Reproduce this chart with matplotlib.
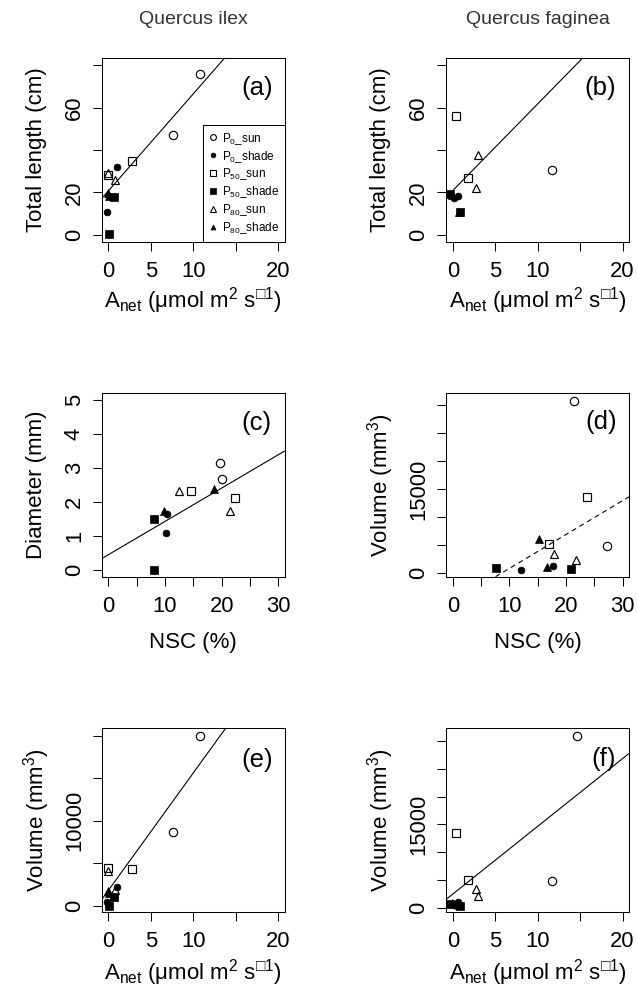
import numpy as np
import matplotlib
matplotlib.use('Agg')
import matplotlib.pyplot as plt
from matplotlib.lines import Line2D

plt.rcParams['font.family'] = ['Liberation Sans', 'DejaVu Sans']
plt.rcParams['mathtext.fontset'] = 'custom'
plt.rcParams['mathtext.rm'] = 'Liberation Sans'
plt.rcParams['mathtext.it'] = 'Liberation Sans:italic'
plt.rcParams['mathtext.bf'] = 'Liberation Sans:bold'
plt.rcParams['mathtext.fallback'] = 'stixsans'

# ---------------- data ----------------
groups = ['P0_sun', 'P0_shade', 'P50_sun', 'P50_shade', 'P80_sun', 'P80_shade']
group_labels = [r'P$_{0}$_sun', r'P$_{0}$_shade', r'P$_{50}$_sun',
                r'P$_{50}$_shade', r'P$_{80}$_sun', r'P$_{80}$_shade']

# Quercus ilex
anet_ilex = [[10.78, 7.55], [0.98, -0.2], [2.75, -0.08], [0.67, 0.1], [-0.05, 0.75], [0.0, 0.1]]
length_ilex = [[75.6, 47.1], [32.2, 11.0], [34.8, 28.0], [18.0, 0.2], [29.0, 25.9], [19.9, 18.5]]
volume_ilex = [[19922, 8627], [2235, 392], [4275, 4392], [1059, 0], [4078, 1843], [1686, 1500]]
nsc_ilex = [[19.7, 20.0], [10.4, 10.1], [14.5, 22.35], [8.06, 8.06], [12.5, 21.5], [18.65, 9.76]]
diam_ilex = [[3.15, 2.68], [1.64, 1.09], [2.31, 2.13], [1.5, 0.0], [2.32, 1.73], [2.38, 1.72]]

# Quercus faginea
anet_fag = [[11.69, 14.59], [0.1, 0.6], [0.43, 1.84], [-0.3, 0.88], [2.7, 2.95], [0.7, -0.1]]
length_fag = [[30.6, np.nan], [17.3, 18.4], [55.8, 26.8], [19.1, 10.7], [22.3, 37.6], [10.7, 19.0]]
volume_fag = [[4950, 30830], [656, 1193], [13536, 5069], [835, 417], [3459, 2266], [600, 895]]
nsc_fag = [[27.3, 21.5], [12.06, 17.7], [23.65, 17.0], [7.65, 20.9], [17.94, 21.76], [15.24, 16.7]]
volnsc_fag = [[4940, 30774], [595, 1250], [13571, 5179], [1012, 714], [3452, 2381], [6071, 1071]]

# regression lines: (intercept, slope)
fit_a = (20.8, 4.57)
fit_b = (20.9, 4.08)
fit_c = (0.449, 0.098)
fit_d = (-5168, 604.6)
fit_e = (1821, 1380)
fit_f = (2555, 1211)

# ---------------- style ----------------
markers = ['o', 'o', 's', 's', '^', '^']
filled = [False, True, False, True, False, True]
msizes = [6.0, 4.9, 5.2, 5.6, 5.9, 5.1]

W, H = 638, 986
fig = plt.figure(figsize=(W / 100, H / 100), dpi=100)

col_left = [101.7, 446.0]
row_top = [58.3, 393.3, 728.3]
aw, ah = 183.3, 183.4


def make_ax(c, r):
    l = col_left[c] / W
    b = 1 - (row_top[r] + ah) / H
    return fig.add_axes([l, b, aw / W, ah / H])


def scatter_groups(ax, xs, ys):
    for i in range(6):
        ax.plot(xs[i], ys[i], ls='none', marker=markers[i], ms=msizes[i],
                mfc='black' if filled[i] else 'none', mec='black',
                mew=0.5 if filled[i] else 0.85, zorder=3)


def style_ax(ax, xlim, ylim, xticks, xlabels, yticks, ylabels):
    ax.set_xlim(*xlim)
    ax.set_ylim(*ylim)
    ax.set_xticks(xticks, xlabels)
    ax.set_yticks(yticks, ylabels, rotation=90, va='center')
    ax.tick_params(axis='both', direction='out', length=6.5, width=0.75,
                   labelsize=15.8, colors='black')
    ax.tick_params(axis='x', pad=7.1)
    ax.tick_params(axis='y', pad=5.6)
    for s in ax.spines.values():
        s.set_linewidth(0.75)
        s.set_color('black')


def add_fit(ax, fit, dashed=False):
    b0, b1 = fit
    ax.axline((0, b0), slope=b1, color='black', lw=0.8,
              ls=(0, (4.5, 3.5)) if dashed else '-', zorder=4)


anet_label = r'A$_{\mathrm{net}}$ (μmol m$^{2}$ s$^{□1}$)'

xt_anet = [0, 5, 10, 15, 20]
xl_anet = ['0', '5', '10', '', '20']
xt_nsc = [0, 5, 10, 15, 20, 25, 30]
xl_nsc = ['0', '', '10', '', '20', '', '30']

# (a)
ax = make_ax(0, 0)
scatter_groups(ax, anet_ilex, length_ilex)
add_fit(ax, fit_a)
style_ax(ax, (-0.8, 20.8), (-3.2, 83.2), xt_anet, xl_anet,
         [0, 20, 40, 60, 80], ['0', '20', '', '60', ''])
ax.set_ylabel('Total length (cm)', fontsize=16, va='center')
ax.yaxis.set_label_coords(-0.355, 0.5)
ax.set_xlabel(anet_label, fontsize=16, va='baseline')
ax.xaxis.set_label_coords(0.5, -0.36)
ax.text(0.846, 0.84, '(a)', transform=ax.transAxes, ha='center', va='center', fontsize=18.5)
handles = [Line2D([], [], ls='none', marker=markers[i], ms=msizes[i] * 0.7,
                  mfc='black' if filled[i] else 'none', mec='black',
                  mew=0.5 if filled[i] else 0.8) for i in range(6)]
leg = ax.legend(handles, group_labels, loc='lower right', bbox_to_anchor=(1, 0),
                borderaxespad=0, frameon=True, fancybox=False, edgecolor='black',
                framealpha=1, fontsize=8.5, handlelength=0.7, handletextpad=0.45,
                labelspacing=0.18, borderpad=0.45)
leg.get_frame().set_linewidth(0.75)
leg.set_zorder(5)

# (b)
ax = make_ax(1, 0)
scatter_groups(ax, anet_fag, length_fag)
add_fit(ax, fit_b)
style_ax(ax, (-0.8, 20.8), (-3.2, 83.2), xt_anet, xl_anet,
         [0, 20, 40, 60, 80], ['0', '20', '', '60', ''])
ax.set_ylabel('Total length (cm)', fontsize=16, va='center')
ax.yaxis.set_label_coords(-0.355, 0.5)
ax.set_xlabel(anet_label, fontsize=16, va='baseline')
ax.xaxis.set_label_coords(0.5, -0.36)
ax.text(0.84, 0.84, '(b)', transform=ax.transAxes, ha='center', va='center', fontsize=18.5)

# (c)
ax = make_ax(0, 1)
scatter_groups(ax, nsc_ilex, diam_ilex)
add_fit(ax, fit_c)
style_ax(ax, (-1.2, 31.2), (-0.2, 5.2), xt_nsc, xl_nsc,
         [0, 1, 2, 3, 4, 5], ['0', '1', '2', '3', '4', '5'])
ax.set_ylabel('Diameter (mm)', fontsize=16, va='center')
ax.yaxis.set_label_coords(-0.355, 0.5)
ax.set_xlabel('NSC (%)', fontsize=16, va='baseline')
ax.xaxis.set_label_coords(0.5, -0.39)
ax.text(0.846, 0.836, '(c)', transform=ax.transAxes, ha='center', va='center', fontsize=18.5)

# (d)
ax = make_ax(1, 1)
scatter_groups(ax, nsc_fag, volnsc_fag)
add_fit(ax, fit_d, dashed=True)
style_ax(ax, (-1.2, 31.2), (-595, 32143), xt_nsc, xl_nsc,
         [0, 5000, 10000, 15000, 20000, 25000, 30000], ['0', '', '', '15000', '', '', ''])
ax.set_ylabel(r'Volume (mm$^{3}$)', fontsize=16, va='center')
ax.yaxis.set_label_coords(-0.355, 0.5)
ax.set_xlabel('NSC (%)', fontsize=16, va='baseline')
ax.xaxis.set_label_coords(0.5, -0.39)
ax.text(0.845, 0.845, '(d)', transform=ax.transAxes, ha='center', va='center', fontsize=18.5)

# (e)
ax = make_ax(0, 2)
scatter_groups(ax, anet_ilex, volume_ilex)
add_fit(ax, fit_e)
style_ax(ax, (-0.8, 20.8), (-706, 20863), xt_anet, xl_anet,
         [0, 5000, 10000, 15000, 20000], ['0', '', '10000', '', ''])
ax.set_ylabel(r'Volume (mm$^{3}$)', fontsize=16, va='center')
ax.yaxis.set_label_coords(-0.355, 0.5)
ax.set_xlabel(anet_label, fontsize=16, va='baseline')
ax.xaxis.set_label_coords(0.5, -0.369)
ax.text(0.846, 0.827, '(e)', transform=ax.transAxes, ha='center', va='center', fontsize=18.5)

# (f)
ax = make_ax(1, 2)
scatter_groups(ax, anet_fag, volume_fag)
add_fit(ax, fit_f)
style_ax(ax, (-0.8, 20.8), (-596, 32200), xt_anet, xl_anet,
         [0, 5000, 10000, 15000, 20000, 25000, 30000], ['0', '', '', '15000', '', '', ''])
ax.set_ylabel(r'Volume (mm$^{3}$)', fontsize=16, va='center')
ax.yaxis.set_label_coords(-0.355, 0.5)
ax.set_xlabel(anet_label, fontsize=16, va='baseline')
ax.xaxis.set_label_coords(0.5, -0.369)
ax.text(0.858, 0.83, '(f)', transform=ax.transAxes, ha='center', va='center', fontsize=18.5)

# column titles
fig.text(193.3 / W, 1 - 20 / H, 'Quercus ilex', ha='center', va='center',
         fontsize=14, color='#333333')
fig.text(537.7 / W, 1 - 20 / H, 'Quercus faginea', ha='center', va='center',
         fontsize=14, color='#333333')

fig.savefig('out.png', dpi=100)
